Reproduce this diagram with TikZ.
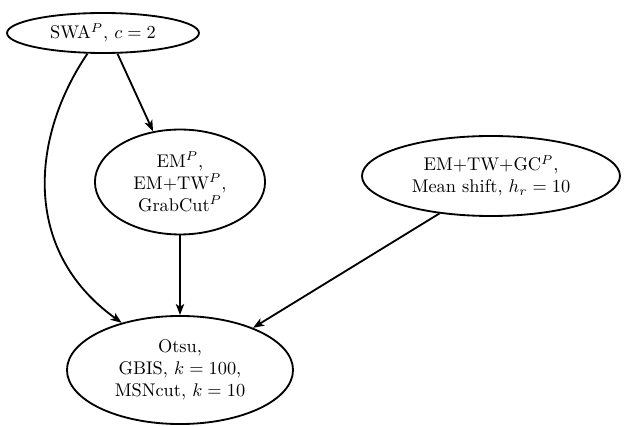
\documentclass[tikz,border=0pt]{standalone}
\usetikzlibrary{arrows.meta,shapes.geometric}
\begin{document}
\begin{tikzpicture}[x=0.545pt,y=-0.545pt,
  box/.style={ellipse,draw,line width=1pt,inner sep=0pt,align=center},
  edge/.style={line width=1pt,-{Stealth[length=6pt,width=4.5pt,inset=1.5pt]}}]
\useasboundingbox (0,0) rectangle (624,426);
\node[box,minimum width=104.6pt,minimum height=21.8pt] (swa) at (103,33) {SWA$^P$, $c=2$};
\node[box,minimum width=92.7pt,minimum height=57.2pt] (em) at (180,182) {EM$^P$,\\EM+TW$^P$,\\GrabCut$^P$};
\node[box,minimum width=140.6pt,minimum height=43.6pt] (gc) at (491,176) {EM+TW+GC$^P$,\\Mean shift, $h_r=10$};
\node[box,minimum width=123.2pt,minimum height=58.9pt] (otsu) at (180,370) {Otsu,\\GBIS, $k=100$,\\MSNcut, $k=10$};
\draw[edge] (swa.-55) -- (em.118);
\draw[edge] (swa.233) .. controls (32,135) and (20,250) .. (otsu.141);
\draw[edge] (em.south) -- (otsu.north);
\draw[edge] (gc.216.5) -- (otsu.30);
\end{tikzpicture}
\end{document}
